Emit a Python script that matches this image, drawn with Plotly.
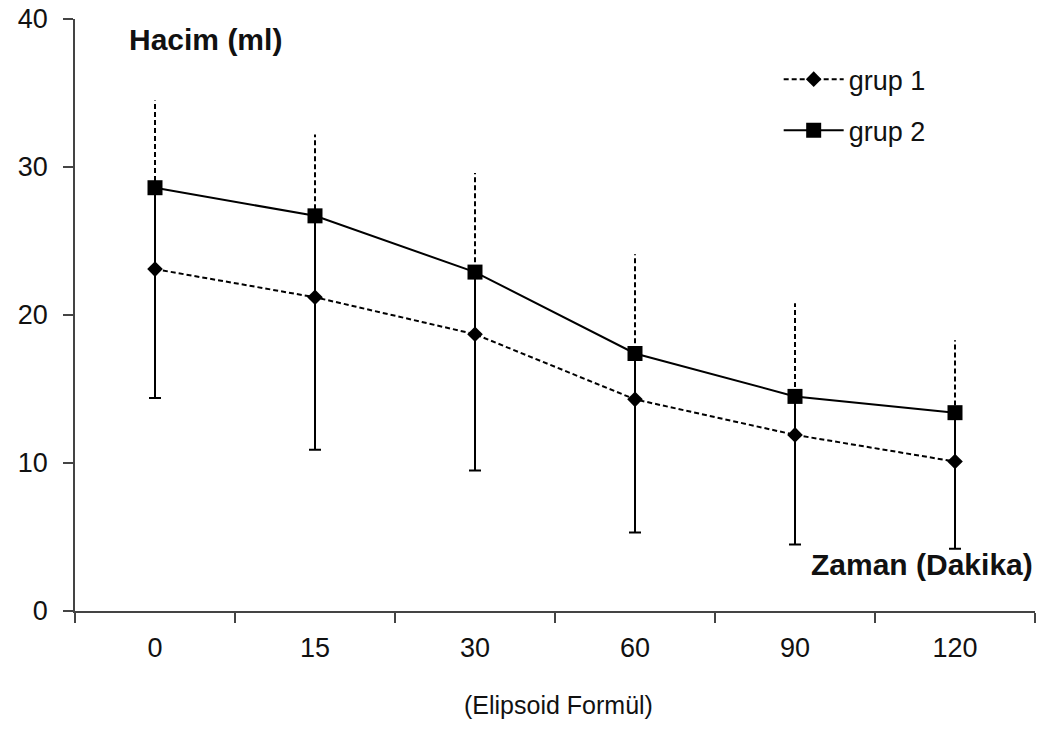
import plotly.graph_objects as go

categories = ["0", "15", "30", "60", "90", "120"]
grup1_mean = [23.1, 21.2, 18.7, 14.3, 11.9, 10.1]
grup1_sd_plus = [11.4, 11.0, 10.9, 9.8, 8.9, 8.2]
grup2_mean = [28.6, 26.7, 22.9, 17.4, 14.5, 13.4]
grup2_sd_minus = [14.2, 15.8, 13.4, 12.1, 10.0, 9.2]

FONT = "Liberation Sans, Arial, sans-serif"

# dashed upper error bars for grup 1 (built from the data)
bx, by = [], []
for c, m, e in zip(categories, grup1_mean, grup1_sd_plus):
    bx += [c, c, None]
    by += [m, m + e, None]

fig = go.Figure()
fig.add_trace(go.Scatter(
    x=bx, y=by, mode="lines", showlegend=False, hoverinfo="skip",
    line=dict(color="black", width=2, dash="5px,3px"),
))
fig.add_trace(go.Scatter(
    x=categories, y=grup1_mean, name="grup 1", mode="lines+markers",
    legendgroup="g1",
    line=dict(color="black", width=2, dash="5px,3px"),
    marker=dict(symbol="diamond", size=12, color="black"),
))
fig.add_trace(go.Scatter(
    x=categories, y=grup2_mean, name="grup 2", mode="lines+markers",
    legendgroup="g2",
    line=dict(color="black", width=2),
    marker=dict(symbol="square", size=15, color="black"),
    error_y=dict(type="data", symmetric=False, array=[0] * len(categories),
                 arrayminus=grup2_sd_minus, color="black", thickness=2, width=6),
))

fig.update_layout(
    width=1046, height=744,
    paper_bgcolor="white", plot_bgcolor="white",
    margin=dict(l=75, r=11, t=19, b=133, autoexpand=False),
    font=dict(family=FONT, size=27, color="#111"),
    showlegend=True,
    legend=dict(x=0.733, y=0.939, xanchor="left", yanchor="top",
                bgcolor="rgba(0,0,0,0)", font=dict(size=27),
                tracegroupgap=13, traceorder="grouped", itemwidth=60),
    xaxis=dict(type="category", categoryorder="array", categoryarray=categories,
               range=[-0.5, len(categories) - 0.5],
               showline=True, linecolor="#444", linewidth=1.5,
               ticks="outside", ticklen=10, tickcolor="#444", tickwidth=1.5,
               tickson="boundaries", showgrid=False, zeroline=False,
               automargin=False,
               ticklabelstandoff=12, tickfont=dict(size=27)),
    yaxis=dict(range=[0, 40], dtick=10, showline=True, linecolor="#444",
               linewidth=1.5, ticks="outside", ticklen=10, tickcolor="#444",
               tickwidth=1.5, showgrid=False, zeroline=False,
               automargin=False,
               ticklabelstandoff=10, tickfont=dict(size=27)),
    annotations=[
        dict(text="<b>Hacim (ml)</b>", xref="paper", yref="paper",
             x=0.054, y=0.965, xanchor="left", yanchor="middle",
             showarrow=False, font=dict(size=30, color="#111")),
        dict(text="<b>Zaman (Dakika)</b>", xref="paper", yref="paper",
             x=1.0, y=0.078, xanchor="right", yanchor="middle",
             showarrow=False, font=dict(size=30, color="#111")),
        dict(text="(Elipsoid Formül)", xref="paper", yref="paper",
             x=0.504, y=-0.159, xanchor="center", yanchor="middle",
             showarrow=False, font=dict(size=25, color="#111")),
    ],
)

fig.write_html(
    "out.html",
    config={"displayModeBar": False},
    post_script="document.body.style.margin='0';document.body.style.overflow='hidden';",
)
